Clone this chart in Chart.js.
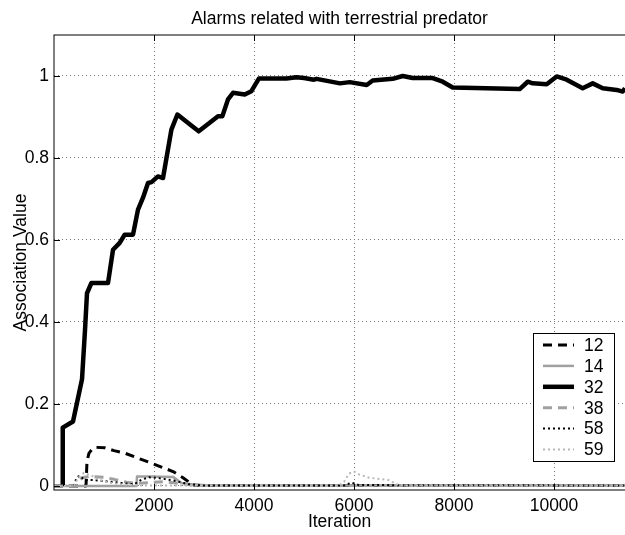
<!DOCTYPE html>
<html lang="en">
<head>
<meta charset="UTF-8">
<title>Alarms related with terrestrial predator</title>
<script src="https://cdn.jsdelivr.net/npm/chart.js"></script>
<style>
  body { margin: 0; background: #fff; }
</style>
</head>
<body>
<canvas id="grafico" width="625" height="535"></canvas>
<script>
  const titulo = 'Alarms related with terrestrial predator';
  const xTicks = [2000, 4000, 6000, 8000, 10000];
  const yTicks = [0, 0.2, 0.4, 0.6, 0.8, 1];
  const labels = ['12', '14', '32', '38', '58', '59'];

  // iteration / association value
  const it12 = [0, 640, 660, 700, 780, 848, 1014, 1200, 1414, 1650, 1980, 2150, 2380, 2580, 2780, 3000, 11420];
  const val12 = [0, 0, 0.06, 0.08, 0.092, 0.094, 0.093, 0.086, 0.080, 0.069, 0.054, 0.046, 0.035, 0.02, 0.002, 0.001, 0.001];

  const it14 = [0, 1650, 1660, 1900, 2380, 2548, 2800, 3200, 11420];
  const val14 = [0, 0, 0.023, 0.023, 0.022, 0.007, 0.003, 0.001, 0.001];

  const it32 = [175, 175, 380, 560, 620, 660, 748, 1080, 1180, 1314, 1414, 1580, 1680, 1780, 1880, 1950, 2080, 2180, 2348, 2468,
    2714, 2894, 3114, 3280, 3368, 3480, 3580, 3814, 3948, 4100, 4648, 4848, 5000, 5200, 5250, 5460, 5720, 5914, 6254, 6374,
    6774, 6974, 7174, 7574, 7774, 7974, 9314, 9474, 9574, 9854, 10054, 10254, 10574, 10774, 10974, 11254, 11374, 11420];
  const val32 = [0, 0.142, 0.157, 0.26, 0.38, 0.47, 0.495, 0.495, 0.576, 0.593, 0.613, 0.613, 0.674, 0.703, 0.739, 0.741, 0.755, 0.751, 0.869, 0.906,
    0.882, 0.865, 0.886, 0.902, 0.902, 0.943, 0.959, 0.955, 0.963, 0.994, 0.994, 0.997, 0.995, 0.991, 0.993, 0.988, 0.982, 0.985, 0.978, 0.989,
    0.993, 1.0, 0.995, 0.995, 0.986, 0.972, 0.968, 0.986, 0.982, 0.980, 0.999, 0.991, 0.970, 0.982, 0.970, 0.966, 0.962, 0.970];

  const it38 = [0, 450, 560, 700, 1000, 1200, 1450, 1650, 1900, 2200, 2500, 2800, 11420];
  const val38 = [0, 0, 0.02, 0.023, 0.021, 0.016, 0.009, 0.006, 0.008, 0.01, 0.006, 0.001, 0.001];

  const it58 = [0, 400, 450, 520, 600, 800, 1200, 1600, 1750, 1900, 2100, 2400, 2700, 3000, 5800, 5950, 6100, 11420];
  const val58 = [0, 0, 0.02, 0.025, 0.015, 0.014, 0.009, 0.004, 0.015, 0.021, 0.019, 0.013, 0.004, 0.001, 0.001, 0.008, 0.002, 0.001];

  const it59 = [0, 400, 480, 600, 750, 900, 1100, 1400, 1700, 5700, 5800, 5900, 6000, 6100, 6300, 6700, 6850, 7000, 11420];
  const val59 = [0, 0, 0.02, 0.032, 0.025, 0.015, 0.008, 0.003, 0.001, 0.001, 0.01, 0.03, 0.035, 0.028, 0.02, 0.014, 0.004, 0.001, 0.001];

  function pares(xs, ys) {
    return xs.map((x, i) => ({ x: x, y: ys[i] }));
  }

  const fonte = '"Liberation Sans", Arial, Helvetica, sans-serif';
  const tam = 17.5;
  Chart.defaults.font.family = fonte;
  Chart.defaults.color = '#000';

  // box around the axes, inward ticks, title over the plot and the legend inside it
  const moldura = {
    id: 'moldura',
    afterDatasetsDraw(chart) {
      const { ctx, chartArea: a, scales } = chart;
      ctx.save();
      ctx.strokeStyle = '#000';
      ctx.lineWidth = 1;
      ctx.setLineDash([]);
      ctx.strokeRect(a.left, a.top, a.right - a.left + 5, a.bottom - a.top);
      ctx.beginPath();
      xTicks.forEach(v => {
        const px = Math.round(scales.x.getPixelForValue(v)) + 0.5;
        ctx.moveTo(px, a.bottom); ctx.lineTo(px, a.bottom - 6);
        ctx.moveTo(px, a.top); ctx.lineTo(px, a.top + 6);
      });
      yTicks.forEach(v => {
        const py = Math.round(scales.y.getPixelForValue(v)) + 0.5;
        ctx.moveTo(a.left, py); ctx.lineTo(a.left + 6, py);
      });
      ctx.stroke();
      ctx.restore();
    },
    afterDraw(chart) {
      const { ctx, chartArea: a } = chart;
      ctx.save();
      ctx.font = tam + 'px ' + fonte;
      ctx.fillStyle = '#000';
      ctx.textAlign = 'center';
      ctx.textBaseline = 'alphabetic';
      ctx.fillText(titulo, (a.left + a.right) / 2, 24);

      const bx = a.right - 92, by = a.bottom - 157, bw = 81, bh = 128;
      ctx.fillStyle = '#fff';
      ctx.fillRect(bx, by, bw, bh);
      ctx.strokeStyle = '#000';
      ctx.lineWidth = 1;
      ctx.strokeRect(bx + 0.5, by + 0.5, bw, bh);
      ctx.textBaseline = 'middle';
      ctx.textAlign = 'left';
      chart.data.datasets.forEach((ds, i) => {
        const y = by + 12 + i * 20.9;
        ctx.strokeStyle = ds.borderColor;
        ctx.lineWidth = ds.borderWidth;
        ctx.setLineDash(ds.borderDash || []);
        ctx.beginPath();
        ctx.moveTo(bx + 10, y);
        ctx.lineTo(bx + 41, y);
        ctx.stroke();
        ctx.fillStyle = '#000';
        ctx.fillText(ds.label, bx + 51, y + 1);
      });
      ctx.restore();
    }
  };

  const estilos = [
    { cor: '#000000', largura: 3, traco: [9, 6] },
    { cor: '#a0a0a0', largura: 2.5, traco: [] },
    { cor: '#000000', largura: 4.5, traco: [] },
    { cor: '#a0a0a0', largura: 3, traco: [9, 6] },
    { cor: '#000000', largura: 2, traco: [2, 3] },
    { cor: '#b8b8b8', largura: 2, traco: [2, 3] }
  ];
  const series = [pares(it12, val12), pares(it14, val14), pares(it32, val32),
    pares(it38, val38), pares(it58, val58), pares(it59, val59)];

  new Chart(document.getElementById('grafico'), {
    type: 'line',
    data: {
      datasets: labels.map((nome, i) => ({
        label: nome,
        data: series[i],
        borderColor: estilos[i].cor,
        borderWidth: estilos[i].largura,
        borderDash: estilos[i].traco,
        borderJoinStyle: 'round',
        pointRadius: 0,
        tension: 0,
        fill: false,
        order: labels.length - 1 - i
      }))
    },
    options: {
      responsive: false,
      animation: false,
      layout: { padding: { top: 35, left: 0, right: 0, bottom: 0 } },
      plugins: {
        legend: { display: false },
        tooltip: { enabled: false },
        title: { display: false }
      },
      scales: {
        x: {
          type: 'linear',
          min: 0,
          max: 11420,
          afterBuildTicks: s => { s.ticks = xTicks.map(v => ({ value: v })); },
          afterFit: s => { s.height = 45; },
          ticks: { font: { size: tam }, color: '#000', padding: 6, maxRotation: 0, callback: v => String(v) },
          grid: { color: '#777', lineWidth: 1, drawTicks: false },
          border: { display: false, dash: [1, 3] },
          title: { display: true, text: 'Iteration', color: '#000', font: { size: tam }, padding: { top: 0, bottom: 2 } }
        },
        y: {
          min: -0.01,
          max: 1.1,
          afterBuildTicks: s => { s.ticks = yTicks.map(v => ({ value: v })); },
          afterFit: s => { s.width = 54; },
          ticks: { font: { size: tam }, color: '#000', padding: 5, callback: v => String(v) },
          grid: { color: '#777', lineWidth: 1, drawTicks: false },
          border: { display: false, dash: [1, 3] },
          title: { display: true, text: 'Association Value', color: '#000', font: { size: tam }, padding: { top: 11, bottom: 0 } }
        }
      }
    },
    plugins: [moldura]
  });
</script>
</body>
</html>
